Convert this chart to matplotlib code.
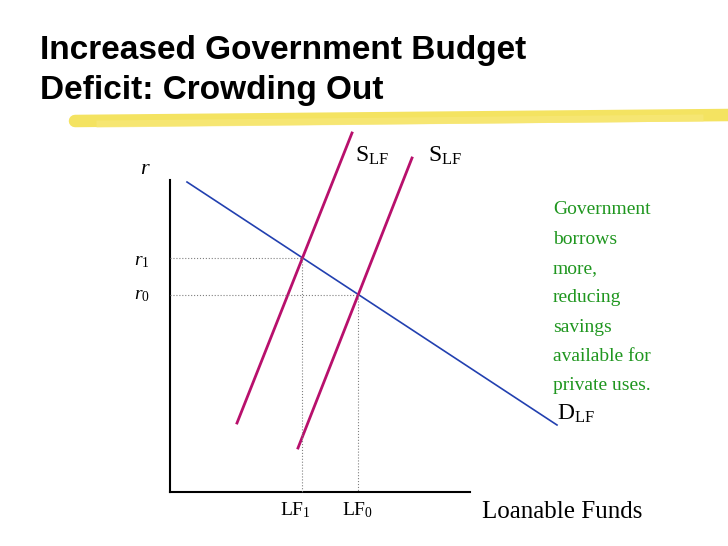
import numpy as np
import matplotlib.pyplot as plt

plt.rcParams['mathtext.fontset'] = 'custom'
plt.rcParams['mathtext.rm'] = 'Liberation Serif'
plt.rcParams['mathtext.it'] = 'Liberation Serif:italic'

# diagram in pixel units of the original slide
demand = [(187, 182), (557, 425)]
supply_new = [(237, 423), (352, 133)]   # after deficit (LF1, r1)
supply_old = [(298, 448), (412, 158)]   # before (LF0, r0)
note_lines = ["Government", "borrows", "more,", "reducing", "savings",
              "available for", "private uses."]

def inter(a, b):
    (x1, y1), (x2, y2) = a
    (x3, y3), (x4, y4) = b
    A = np.array([[x2 - x1, -(x4 - x3)], [y2 - y1, -(y4 - y3)]])
    t = np.linalg.solve(A, [x3 - x1, y3 - y1])[0]
    return x1 + t * (x2 - x1), y1 + t * (y2 - y1)

fig = plt.figure(figsize=(7.28, 5.46), dpi=100)
ax = fig.add_axes([0, 0, 1, 1])
ax.set_xlim(0, 728)
ax.set_ylim(546, 0)
ax.axis('off')

serif = 'Liberation Serif'
# title
ax.text(40, 50, "Increased Government Budget", fontsize=24, fontweight='bold',
        family='Liberation Sans', va='center')
ax.text(40, 90, "Deficit: Crowding Out", fontsize=24, fontweight='bold',
        family='Liberation Sans', va='center')
# highlighter stroke
ax.plot([75, 728], [121, 115], color='#f2dc3a', lw=9, alpha=0.8, solid_capstyle='round')
ax.plot([100, 700], [124, 118], color='#f7e87a', lw=5, alpha=0.7)

# axes
ax.plot([170, 170], [180, 492], color='black', lw=1.5)
ax.plot([170, 470], [492, 492], color='black', lw=1.5)

ax.plot(*zip(*demand), color='#2240b0', lw=1.2)
ax.plot(*zip(*supply_new), color='#b8106c', lw=2)
ax.plot(*zip(*supply_old), color='#b8106c', lw=2)

for s in (supply_new, supply_old):
    x, y = inter(demand, s)
    ax.plot([170, x], [y, y], color='gray', lw=0.8, ls=':')
    ax.plot([x, x], [y, 492], color='gray', lw=0.8, ls=':')

ax.text(145, 168, "$r$", fontsize=16, ha='center', va='center')
ax.text(134, 261, "$r_1$", fontsize=14, va='center')
ax.text(134, 294, "$r_0$", fontsize=14, va='center')
ax.text(355, 155, "$\\mathrm{S_{LF}}$", fontsize=17, va='center')
ax.text(428, 155, "$\\mathrm{S_{LF}}$", fontsize=17, va='center')
ax.text(557, 413, "$\\mathrm{D_{LF}}$", fontsize=17, va='center')
ax.text(280, 510, "$\\mathrm{LF_1}$", fontsize=14, va='center')
ax.text(342, 510, "$\\mathrm{LF_0}$", fontsize=14, va='center')
ax.text(482, 512, "Loanable Funds", fontsize=18, family=serif, va='center')

for i, t in enumerate(note_lines):
    ax.text(553, 210 + i * 29.3, t, fontsize=14, family=serif, color='#1f961f', va='center')

fig.savefig('out.png', dpi=100)
